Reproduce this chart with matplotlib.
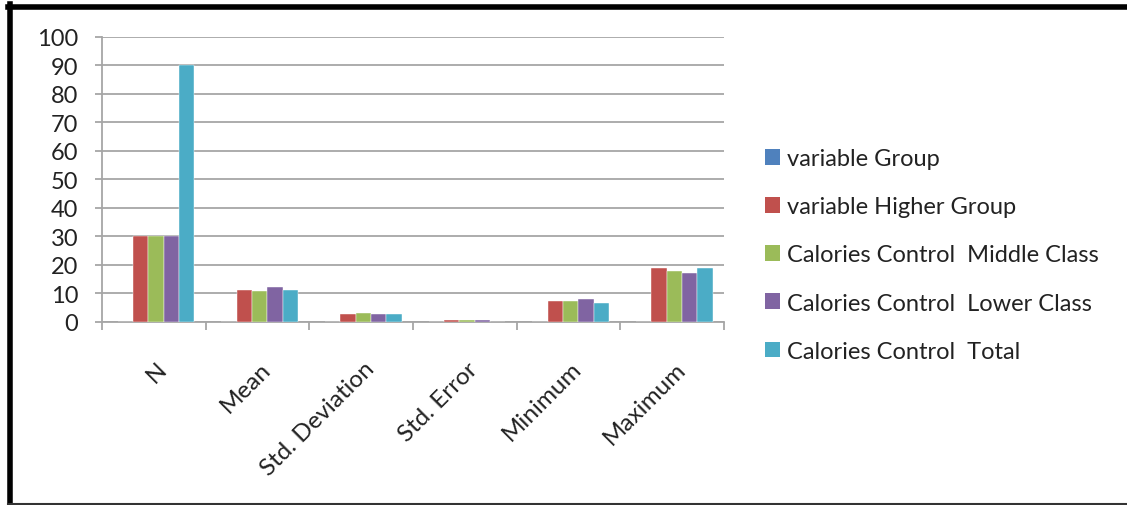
import numpy as np
import matplotlib
matplotlib.use("Agg")
import matplotlib.pyplot as plt
from matplotlib.patches import Patch
from matplotlib.lines import Line2D

categories = ["N", "Mean", "Std. Deviation", "Std. Error", "Minimum", "Maximum"]
series_names = ["variable Group", "variable Higher Group",
                "Calories Control  Middle Class", "Calories Control  Lower Class",
                "Calories Control  Total"]
variable_group = [0, 0, 0, 0, 0, 0]
higher_group = [30, 11.2, 2.7, 0.6, 7.2, 18.8]
middle_class = [30, 10.7, 3.1, 0.6, 7.2, 17.9]
lower_class = [30, 12.1, 2.7, 0.6, 8.0, 17.1]
total = [90, 11.2, 2.7, 0.0, 6.8, 18.8]
colors = ["#4F81BD", "#C0504D", "#9BBB59", "#8064A2", "#4BACC6"]

plt.rcParams['font.family'] = ['Lato', 'DejaVu Sans']
fig = plt.figure(figsize=(11.27, 5.06), dpi=100)
ax = fig.add_axes([102 / 1127, 1 - 323 / 506, 622 / 1127, 285.5 / 506])

data = [variable_group, higher_group, middle_class, lower_class, total]
ind = np.arange(len(categories))
width = 0.148
for i, vals in enumerate(data):
    ax.bar(ind + (i - 2) * width + 0.02, vals, width, color=colors[i],
           edgecolor='white', linewidth=0.3, zorder=3)

ax.set_xlim(-0.5, len(categories) - 0.5)
ax.set_ylim(0, 100)
ax.set_yticks(np.arange(0, 101, 10))
ax.yaxis.grid(True, color='#a6a6a6', linewidth=1.3, zorder=0)
for s in ['top', 'right']:
    ax.spines[s].set_visible(False)
for s in ['left', 'bottom']:
    ax.spines[s].set_color('#a6a6a6')
    ax.spines[s].set_linewidth(1.3)
ax.tick_params(axis='y', colors='#a6a6a6', length=5, width=1.3, labelcolor='#222222',
               labelsize=17, pad=12)
ax.set_xticks(np.arange(-0.5, len(categories)))
ax.set_xticklabels([])
ax.tick_params(axis='x', colors='#a6a6a6', length=6, width=1.3)
for i, lab in enumerate(categories):
    ax.annotate(lab, xy=(i, 0), xycoords=('data', 'axes fraction'),
                xytext=(7, -31), textcoords='offset points',
                rotation=45, rotation_mode='anchor', ha='right', va='center',
                fontsize=17.5, color='#222222')

handles = [Patch(facecolor=c, edgecolor='none') for c in colors]
fig.legend(handles, series_names, loc='center left', bbox_to_anchor=(765 / 1127, 1 - 256 / 506),
           frameon=False, fontsize=17, handlelength=0.65, handleheight=0.65, borderpad=0,
           borderaxespad=0, handletextpad=0.3, labelspacing=1.15, labelcolor='#222222')

# outer frame
fig.add_artist(Line2D([8 / 1127, 1], [1 - 7.5 / 506, 1 - 7.5 / 506], color='black', linewidth=4))
fig.add_artist(Line2D([9.8 / 1127, 9.8 / 1127], [1 - 5 / 506, 1 / 506], color='black', linewidth=4))
fig.add_artist(Line2D([8 / 1127, 1], [1.5 / 506, 1.5 / 506], color='#333333', linewidth=1.5))

fig.savefig("out.png", dpi=100, facecolor='white')
